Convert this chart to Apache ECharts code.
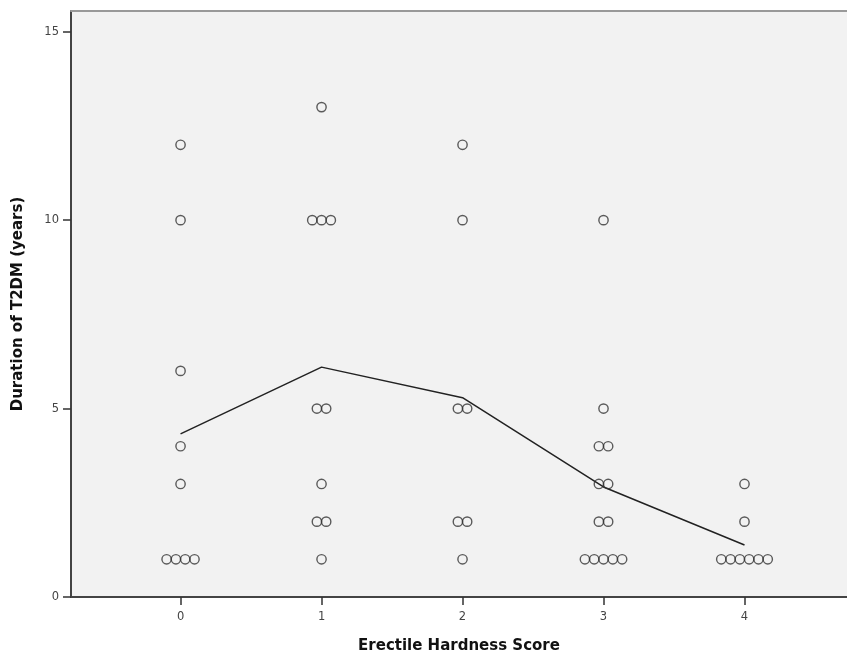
<!DOCTYPE html>
<html>
<head>
<meta charset="utf-8">
<script src="https://cdn.jsdelivr.net/npm/echarts@6/dist/echarts.min.js"></script>
<style>
html,body{margin:0;padding:0;background:#fff;}
#main{width:847px;height:657px;}
</style>
</head>
<body>
<div id="main"></div>
<script>
// erectile hardness score categories
var scores = [0, 1, 2, 3, 4];
// duration of T2DM (years) for each case, grouped by score
var dur0 = [12, 10, 6, 4, 3, 1, 1, 1, 1];
var dur1 = [13, 10, 10, 10, 5, 5, 3, 2, 2, 1];
var dur2 = [12, 10, 5, 5, 2, 2, 1];
var dur3 = [10, 5, 4, 4, 3, 3, 2, 2, 1, 1, 1, 1, 1];
var dur4 = [3, 2, 1, 1, 1, 1, 1, 1];
// mean duration per score (line)
var means = [4.33, 6.1, 5.29, 2.92, 1.38];
var yTicks = [0, 5, 10, 15];

window.onload = function () {
    var chart = echarts.init(document.getElementById("main"));
    var groups = [dur0, dur1, dur2, dur3, dur4];
    var step = 0.066; // horizontal spread of tied points

    // tied values are spread side by side like the original dot layout
    var pts = [];
    groups.forEach(function (g, k) {
        var counts = {};
        g.forEach(function (v) { counts[v] = (counts[v] || 0) + 1; });
        Object.keys(counts).forEach(function (v) {
            var n = counts[v];
            for (var i = 0; i < n; i++) {
                pts.push([scores[k] + (i - (n - 1) / 2) * step, Number(v)]);
            }
        });
    });
    var lineData = scores.map(function (s, i) { return [s, means[i]]; });

    var labelFont = {color: "#444", fontSize: 11.5, fontFamily: "DejaVu Sans"};

    var option = {
        animation: false,
        grid: {left: 71, top: 11, right: 0, bottom: 60, show: true, backgroundColor: "#f2f2f2",
               borderWidth: 0, containLabel: false, outerBoundsMode: "none"},
        xAxis: [{
            type: "value",
            min: -0.777,
            max: 4.727,
            name: "Erectile Hardness Score",
            nameLocation: "middle",
            nameGap: 42,
            nameTextStyle: {color: "#111", fontSize: 15, fontWeight: "bold", fontFamily: "DejaVu Sans"},
            axisLine: {show: true, onZero: false, lineStyle: {color: "#444", width: 2}},
            axisTick: {show: true, length: 8, customValues: scores, lineStyle: {color: "#333", width: 1.5}},
            axisLabel: Object.assign({customValues: scores, margin: 14}, labelFont),
            splitLine: {show: false}
        }, {
            type: "value",
            position: "top",
            min: -0.777,
            max: 4.727,
            axisLine: {show: true, onZero: false, lineStyle: {color: "#999", width: 2}},
            axisTick: {show: false},
            axisLabel: {show: false},
            splitLine: {show: false}
        }],
        yAxis: {
            type: "value",
            min: 0,
            max: 15.55,
            name: "Duration of T2DM (years)",
            nameLocation: "middle",
            nameGap: 45,
            nameTextStyle: {color: "#111", fontSize: 15, fontWeight: "bold", fontFamily: "DejaVu Sans"},
            axisLine: {show: true, onZero: false, lineStyle: {color: "#444", width: 2}},
            axisTick: {show: true, length: 8, customValues: yTicks, lineStyle: {color: "#333", width: 1.5}},
            axisLabel: Object.assign({customValues: yTicks, margin: 12}, labelFont),
            splitLine: {show: false}
        },
        series: [{
            type: "line",
            data: lineData,
            showSymbol: false,
            lineStyle: {color: "#222", width: 1.5},
            z: 3
        }, {
            type: "scatter",
            data: pts,
            symbol: "circle",
            symbolSize: 9.3,
            itemStyle: {color: "rgba(0,0,0,0)", borderColor: "#333", borderWidth: 1.4},
            z: 4
        }]
    };
    chart.setOption(option);
};
</script>
</body>
</html>
